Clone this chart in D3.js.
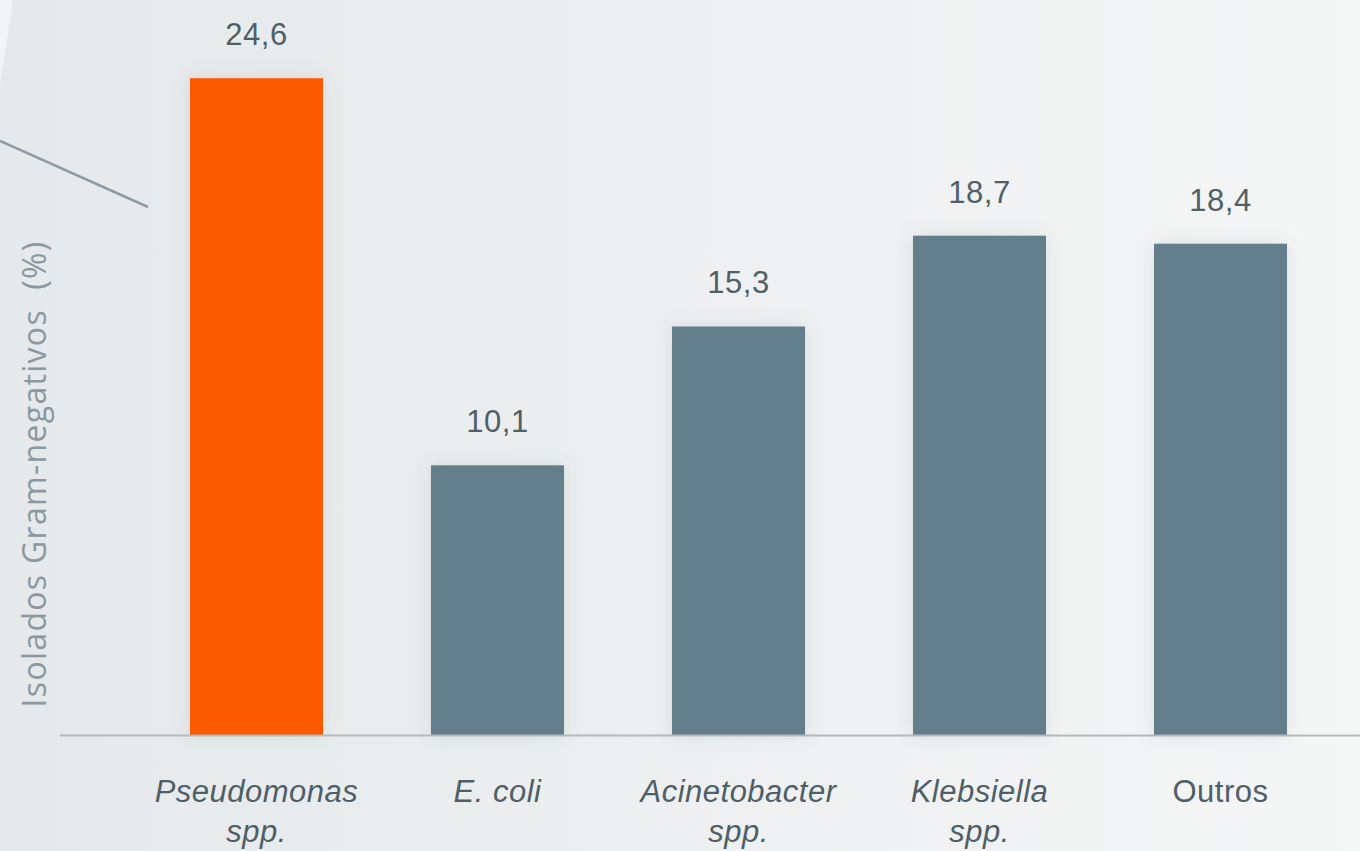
<!DOCTYPE html>
<html>
<head>
<meta charset="utf-8">
<script src="https://cdn.jsdelivr.net/npm/d3@7"></script>
<style>
  html, body { margin: 0; padding: 0; overflow: hidden; background: #eceff1; }
  svg { display: block; }
</style>
</head>
<body>
<svg id="chart" width="1360" height="851"></svg>
<script>
// ---- data ----
const categories = ["Pseudomonas spp.", "E. coli", "Acinetobacter spp.", "Klebsiella spp.", "Outros"];
const labelLines = [["Pseudomonas", "spp."], ["E. coli"], ["Acinetobacter", "spp."], ["Klebsiella", "spp."], ["Outros"]];
const italicLabels = [true, true, true, true, false];
const values = [24.6, 10.1, 15.3, 18.7, 18.4];
const valueLabels = ["24,6", "10,1", "15,3", "18,7", "18,4"];
const highlight = [true, false, false, false, false];
const yAxisTitle = "Isolados Gram-negativos  (%)";

// ---- layout ----
const W = 1360, H = 851;
const svg = d3.select("#chart");
const defs = svg.append("defs");

const bg = defs.append("linearGradient").attr("id", "bg").attr("x1", 0).attr("y1", 0).attr("x2", 1).attr("y2", 0);
bg.append("stop").attr("offset", "0%").attr("stop-color", "#e5e9eb");
bg.append("stop").attr("offset", "55%").attr("stop-color", "#eef0f1");
bg.append("stop").attr("offset", "100%").attr("stop-color", "#f5f6f6");

const shadow = defs.append("filter").attr("id", "shadow").attr("x", "-30%").attr("y", "-10%").attr("width", "160%").attr("height", "120%");
shadow.append("feDropShadow").attr("dx", 0).attr("dy", 0).attr("stdDeviation", 9)
  .attr("flood-color", "#5a6a72").attr("flood-opacity", 0.16);

svg.append("rect").attr("width", W).attr("height", H).attr("fill", "url(#bg)");
// light wedge top-left
svg.append("path").attr("d", "M0,0 L13,0 L0,85 Z").attr("fill", "#f2f4f5");
// decorative diagonal line
svg.append("line").attr("x1", 0).attr("y1", 141).attr("x2", 148).attr("y2", 207)
  .attr("stroke", "#8d9ba2").attr("stroke-width", 2.5);

const x = d3.scaleBand().domain(categories).range([136, 1341]).paddingInner(0.448).paddingOuter(0.224);
const y = d3.scaleLinear().domain([0, 25]).range([735, 67.5]);

// bars
svg.append("g").selectAll("rect").data(categories).join("rect")
  .attr("x", d => x(d))
  .attr("y", (d, i) => y(values[i]))
  .attr("width", x.bandwidth())
  .attr("height", (d, i) => y(0) - y(values[i]))
  .attr("fill", (d, i) => highlight[i] ? "#fb5a00" : "#647f8c")
  .attr("filter", "url(#shadow)");

// baseline (x axis)
const xAxis = d3.axisBottom(x).tickSize(0).tickFormat("");
const gx = svg.append("g").attr("transform", `translate(0,${y(0)})`).call(xAxis);
gx.select(".domain").attr("d", `M60,0.5H${W}`).attr("stroke", "#b3babe").attr("stroke-width", 2);

// value labels
svg.append("g").selectAll("text").data(categories).join("text")
  .attr("x", d => x(d) + x.bandwidth() / 2)
  .attr("y", (d, i) => y(values[i]) - 33)
  .attr("text-anchor", "middle")
  .attr("font-family", "'Liberation Sans', Arial, sans-serif")
  .attr("font-size", 31)
  .attr("letter-spacing", 0.5)
  .attr("fill", "#4f5f68")
  .text((d, i) => valueLabels[i]);

// category labels
const cat = svg.append("g").selectAll("text").data(categories).join("text")
  .attr("x", d => x(d) + x.bandwidth() / 2)
  .attr("y", 802)
  .attr("text-anchor", "middle")
  .attr("font-family", "'Liberation Sans', Arial, sans-serif")
  .attr("font-size", 31)
  .attr("font-style", (d, i) => italicLabels[i] ? "italic" : "normal")
  .attr("letter-spacing", 0.5)
  .attr("fill", "#4f5f68");
cat.each(function(d, i) {
  const t = d3.select(this);
  labelLines[i].forEach((ln, j) => {
    t.append("tspan").attr("x", x(d) + x.bandwidth() / 2).attr("dy", j === 0 ? 0 : 40).text(ln);
  });
});

// y axis title
svg.append("text")
  .attr("transform", `translate(46,474) rotate(-90)`)
  .attr("text-anchor", "middle")
  .attr("font-family", "'Open Sans', 'Liberation Sans', sans-serif")
  .attr("font-size", 32)
  .attr("letter-spacing", 1.3)
  .attr("fill", "#8b989f")
  .style("white-space", "pre")
  .text(yAxisTitle);
</script>
</body>
</html>
